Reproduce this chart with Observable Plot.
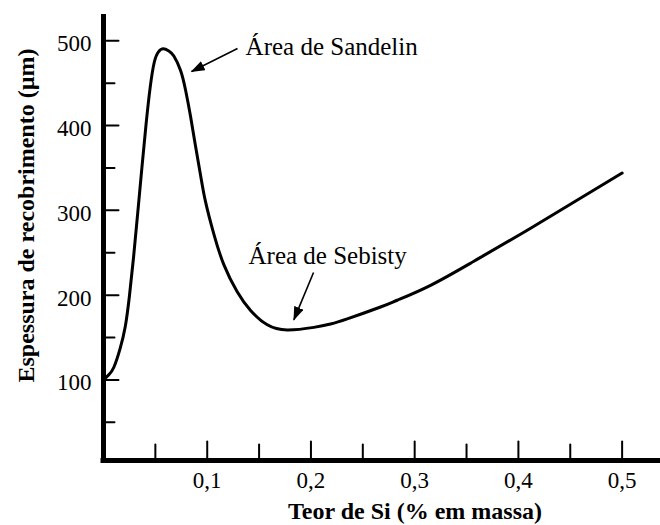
<!DOCTYPE html>
<html>
<head>
<meta charset="utf-8">
<script src="https://cdn.jsdelivr.net/npm/d3@7"></script>
<script src="https://cdn.jsdelivr.net/npm/@observablehq/plot@0.6"></script>
<style>
  html, body { margin: 0; padding: 0; background: #fff; }
  #chart svg, #chart svg text { font-family: "Liberation Serif", "Times New Roman", "DejaVu Serif", serif !important; }
</style>
</head>
<body>
<div id="chart"></div>
<script>
// ---- data ----
const siContent = [0, 0.005, 0.01, 0.016, 0.021, 0.025, 0.029, 0.033, 0.037, 0.041, 0.045, 0.049, 0.053, 0.0576, 0.063, 0.0678, 0.0743, 0.0791, 0.0839, 0.0887, 0.0935, 0.0984, 0.1064, 0.116, 0.1289, 0.1418, 0.1579, 0.1771, 0.2028, 0.2189, 0.235, 0.2671, 0.2832, 0.3153, 0.3571, 0.4118, 0.5];
const thickness = [100, 106, 115, 137, 163, 199, 245, 297, 350, 401, 445, 475, 487, 490.5, 488, 482, 465, 442, 411, 376, 342, 310, 272, 236, 204, 182, 165, 159, 162, 166, 172, 186, 194, 211.6, 240, 279, 344];

const xTicks = [0.1, 0.2, 0.3, 0.4, 0.5];
const xTickLabels = ["0,1", "0,2", "0,3", "0,4", "0,5"];
const xMinorTicks = [0.05, 0.15, 0.25, 0.35, 0.45];
const yTicks = [100, 200, 300, 400, 500];
const yTickLabels = ["100", "200", "300", "400", "500"];
const yMinorTicks = [50, 150, 250, 350, 450];

const xDomain = [0, 0.537];
const yDomain = [5, 531];

const xTitle = "Teor de Si (% em massa)";
const yTitle = "Espessura de recobrimento (µm)";

const noteLabels = ["Área de Sandelin", "Área de Sebisty"];
const noteX = [0.137, 0.1398];
const noteY = [483.8, 237.3];
const arrowX1 = [0.1292, 0.2025];
const arrowY1 = [490.8, 226.7];
const arrowX2 = [0.0849, 0.1835];
const arrowY2 = [463.7, 170.9];

// ---- tables ----
const curve = siContent.map((x, i) => ({x, y: thickness[i]}));
const notes = noteLabels.map((t, i) => ({t, x: noteX[i], y: noteY[i]}));
const arrows = arrowX1.map((x1, i) => ({x1, y1: arrowY1[i], x2: arrowX2[i], y2: arrowY2[i]}));

const tickShape = {draw(ctx, l) { ctx.moveTo(0, 0); ctx.lineTo(0, -l); }};
const serif = "Liberation Serif, Times New Roman, DejaVu Serif, serif";

const chart = Plot.plot({
  width: 660,
  height: 525,
  marginLeft: 103,
  marginRight: 0,
  marginTop: 14,
  marginBottom: 65,
  style: {fontFamily: serif, fontSize: "23px", background: "#fff", color: "#000"},
  x: {domain: xDomain},
  y: {domain: yDomain},
  marks: [
    // axis lines
    Plot.ruleX([xDomain[0]], {stroke: "#000", strokeWidth: 5}),
    Plot.ruleY([yDomain[0]], {stroke: "#000", strokeWidth: 5, strokeLinecap: "square"}),
    // inward ticks
    Plot.vector(yTicks, {x: xDomain[0], y: d => d, length: 15, rotate: 90, anchor: "start", shape: tickShape, stroke: "#000", strokeWidth: 2}),
    Plot.vector(yMinorTicks, {x: xDomain[0], y: d => d, length: 11, rotate: 90, anchor: "start", shape: tickShape, stroke: "#000", strokeWidth: 2}),
    Plot.vector(xTicks, {x: d => d, y: yDomain[0], length: 19, rotate: 0, anchor: "start", shape: tickShape, stroke: "#000", strokeWidth: 2}),
    Plot.vector(xMinorTicks, {x: d => d, y: yDomain[0], length: 16, rotate: 0, anchor: "start", shape: tickShape, stroke: "#000", strokeWidth: 2}),
    // tick labels
    Plot.axisY({ticks: yTicks, tickSize: 0, tickPadding: 12, dy: 3, tickFormat: d => yTickLabels[yTicks.indexOf(d)], fontSize: 23, fontFamily: serif, label: null}),
    Plot.axisX({ticks: xTicks, tickSize: 0, tickPadding: 11, tickFormat: d => xTickLabels[xTicks.indexOf(d)], fontSize: 23, fontFamily: serif, label: null}),
    // axis titles
    Plot.text([xTitle], {frameAnchor: "bottom", text: d => d, dx: 33, dy: 58, lineAnchor: "bottom", textAnchor: "middle", fontWeight: "bold", fontSize: 24, fontFamily: serif}),
    Plot.text([yTitle], {frameAnchor: "left", text: d => d, rotate: -90, dx: -70, dy: -22, lineAnchor: "bottom", textAnchor: "middle", fontWeight: "bold", fontSize: 24, fontFamily: serif}),
    // curve
    Plot.line(curve, {x: "x", y: "y", curve: "natural", stroke: "#000", strokeWidth: 3}),
    // annotations
    Plot.link(arrows, {x1: "x1", y1: "y1", x2: "x2", y2: "y2", stroke: "#000", strokeWidth: 1.6}),
    Plot.text(notes, {x: "x", y: "y", text: "t", textAnchor: "start", lineAnchor: "bottom", fontSize: 25, fontFamily: serif})
  ]
});

// filled triangular arrowheads for the annotation links
const svg = d3.select(chart);
const defs = svg.append("defs");
defs.append("marker")
  .attr("id", "tri-head")
  .attr("viewBox", "0 0 14 10")
  .attr("refX", 13)
  .attr("refY", 5)
  .attr("markerWidth", 14)
  .attr("markerHeight", 10)
  .attr("markerUnits", "userSpaceOnUse")
  .attr("orient", "auto")
  .append("path")
  .attr("d", "M0,0L14,5L0,10Z")
  .attr("fill", "#000");
svg.selectAll('g[aria-label="link"] path').attr("marker-end", "url(#tri-head)");

document.getElementById("chart").appendChild(chart);
</script>
</body>
</html>
